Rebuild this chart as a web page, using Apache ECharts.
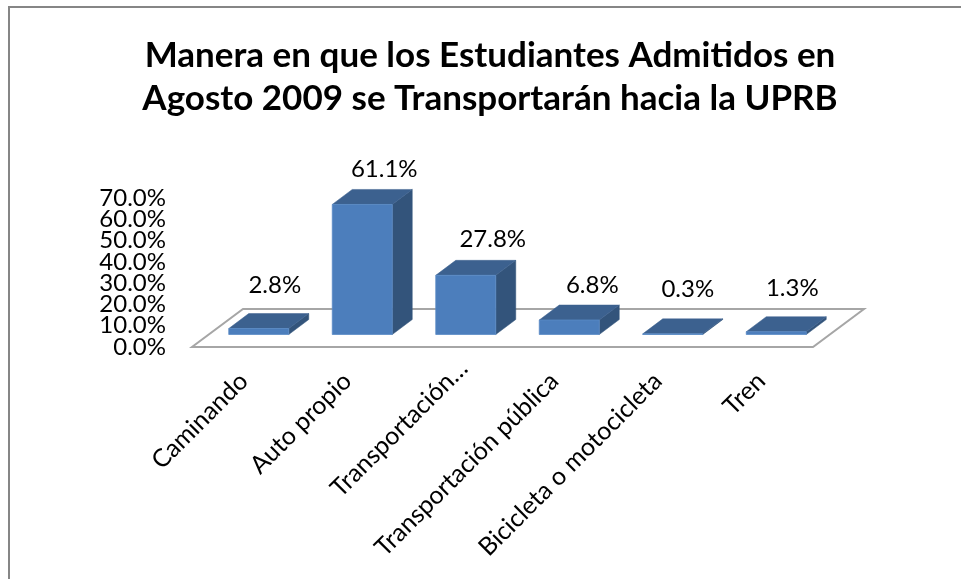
<!DOCTYPE html>
<html><head><meta charset="utf-8">
<style>html,body{margin:0;padding:0;background:#fff}#c{width:961px;height:579px}</style>
<script src="https://cdn.jsdelivr.net/npm/echarts@6/dist/echarts.min.js"></script>
</head><body><div id="c"></div>
<script>
const categories = ['Caminando','Auto propio','Transportación…','Transportación pública','Bicicleta o motocicleta','Tren'];
const shares = [2.8,61.1,27.8,6.8,0.3,1.3];
const yTicks = {min:0,max:70,interval:10};
const yEndTicks = [0,70];
const titleText = 'Manera en que los Estudiantes Admitidos en\nAgosto 2009 se Transportarán hacia la UPRB';

const FONT = 'Lato, "Open Sans", sans-serif';
const FLOOR = {dx:51,dy:-38};
const BAR = {w:60,dx:20,dy:-15,offX:15,offY:-12.5};
const labelNudgeX = [16,22,27,23,15,16];
const labelNudgeY = [-28,-20,-21,-20,-30,-28];
const categoryLabelPull = [0,0,18,0,0,0];

const chart = echarts.init(document.getElementById('c'),null,{renderer:'canvas'});
function poly(points,fill,stroke,lw){
  return {type:'polygon',shape:{points},style:{fill,stroke:stroke||fill,lineWidth:lw===undefined?0.5:lw}};
}
const yLabel = {margin:26,hideOverlap:false,padding:[3,0,0,0],fontFamily:FONT,fontSize:24,color:'#000',formatter:v=>v.toFixed(1)+'%'};
const yBase = {type:'value',min:yTicks.min,max:yTicks.max,interval:yTicks.interval,position:'left',
  splitLine:{show:false},axisLine:{show:false},axisTick:{show:false}};
chart.setOption({
  animation:false,
  backgroundColor:'#fff',
  title:{text:titleText,left:485,top:29,textAlign:'center',
    textStyle:{fontFamily:FONT,fontSize:35,fontWeight:'bold',color:'#000',lineHeight:43}},
  grid:{left:192,right:148,top:198,bottom:232,containLabel:false},
  graphic:[
    {type:'polyline',silent:true,z:-1,shape:{points:[[9,579],[9,7],[961,7]]},style:{fill:null,stroke:'#868686',lineWidth:2}}
  ],
  xAxis:{type:'category',
    data:categories.map((c,i)=>categoryLabelPull[i]?{value:c,textStyle:{padding:[0,-categoryLabelPull[i],0,0]}}:c),
    axisLine:{show:false},axisTick:{show:false},
    axisLabel:{rotate:45,interval:0,margin:30,fontFamily:FONT,fontSize:25,color:'#000'}},
  yAxis:[
    Object.assign({},yBase,{axisLabel:Object.assign({},yLabel,{showMinLabel:false,showMaxLabel:false})}),
    Object.assign({},yBase,{axisLabel:Object.assign({},yLabel,{customValues:yEndTicks,showMinLabel:true,showMaxLabel:true})})
  ],
  series:[
    {type:'custom',silent:true,z:1,data:[0],encode:{y:0},
     renderItem(p,api){
       const c=p.coordSys, x0=c.x, x1=c.x+c.width, y=c.y+c.height;
       return {type:'polygon',shape:{points:[[x0,y],[x1,y],[x1+FLOOR.dx,y+FLOOR.dy],[x0+FLOOR.dx,y+FLOOR.dy]]},
         style:{fill:'#fff',stroke:'#a6a6a6',lineWidth:2}};
     }},
    {type:'custom',z:2,data:shares.map((v,i)=>[i,v]),encode:{x:0,y:1},
     renderItem(p,api){
       const i=api.value(0), v=api.value(1);
       const base=api.coord([i,0]);
       const h=api.size([0,v])[1];
       const l=base[0]+BAR.offX-BAR.w/2, r=l+BAR.w, b=base[1]+BAR.offY, t=b-h;
       const dx=BAR.dx, dy=BAR.dy;
       const kids=[
         poly([[r,b],[r+dx,b+dy],[r+dx,t+dy],[r,t]],'#33547b'),
         poly([[l,t],[r,t],[r+dx,t+dy],[l+dx,t+dy]],'#3c618f'),
         poly([[l,b],[r,b],[r,t],[l,t]],'#4c7ebc','#5b8cc6',0.8),
         {type:'text',style:{text:v.toFixed(1)+'%',x:(l+r)/2+labelNudgeX[i],y:t+dy+labelNudgeY[i],
           align:'center',verticalAlign:'middle',fontFamily:FONT,fontSize:24,fill:'#000'}}
       ];
       return {type:'group',children:kids};
     }}
  ]
});
</script></body></html>
